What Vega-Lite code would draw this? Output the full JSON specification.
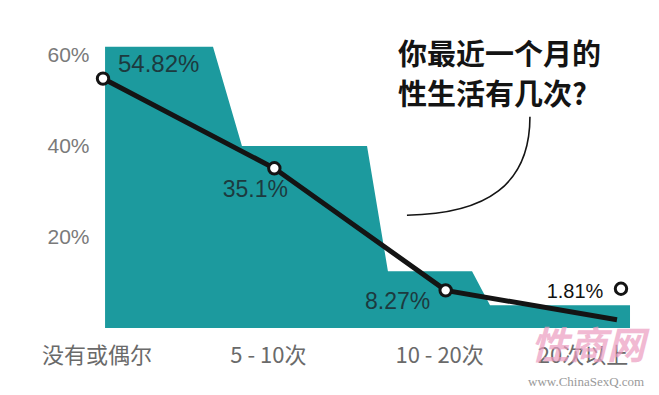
{
  "$schema": "https://vega.github.io/schema/vega-lite/v6.json",
  "width": 659,
  "height": 395,
  "autosize": "none",
  "padding": 0,
  "background": "white",
  "config": {"view": {"stroke": null}},
  "datasets": {
    "steps": [
      {"i": 0.012, "v": 61.8},
      {"i": 0.642, "v": 61.8},
      {"i": 0.811, "v": 40},
      {"i": 1.541, "v": 40},
      {"i": 1.663, "v": 12.5},
      {"i": 2.154, "v": 12.5},
      {"i": 2.259, "v": 5},
      {"i": 3.076, "v": 5}
    ],
    "share": [
      {"i": 0, "cat": "没有或偶尔", "v": 54.82, "label": "54.82%"},
      {"i": 1, "cat": "5 - 10次", "v": 35.1, "label": "35.1%"},
      {"i": 2, "cat": "10 - 20次", "v": 8.27, "label": "8.27%"},
      {"i": 3, "cat": "20次以上", "v": 1.81, "label": "1.81%"}
    ],
    "notes": [
      {"kind": "question", "i": 1.722, "v": 62.75, "text": "你最近一个月的\n性生活有几次?"},
      {"kind": "bubble", "i": 2.133, "v": 35.6, "text": ""},
      {"kind": "mark", "i": 2.831, "v": -4.4, "text": "性商网"},
      {"kind": "url", "i": 2.82, "v": -11.87, "text": "www.ChinaSexQ.com"}
    ]
  },
  "encoding": {
    "x": {"field": "i", "type": "quantitative", "scale": {"domain": [-0.6012, 3.2452], "nice": false, "zero": false}, "axis": null},
    "y": {"field": "v", "type": "quantitative", "scale": {"domain": [-14.725, 72.09], "nice": false, "zero": false},
      "axis": {"values": [20, 40, 60], "labelExpr": "datum.value + '%'", "orient": "left", "offset": -89, "domain": false, "ticks": false, "tickSize": 0, "grid": false, "labelPadding": 0, "labelFont": "Liberation Sans", "labelFontSize": 21, "labelColor": "#7a7a7a", "labelBaseline": "middle", "title": null}}
  },
  "layer": [
    {
      "data": {"name": "steps"},
      "mark": {"type": "area", "color": "#1c9a9e", "opacity": 1},
      "encoding": {"y2": {"datum": 0}}
    },
    {
      "data": {"name": "share"},
      "mark": {"type": "line", "color": "#141414", "strokeWidth": 5, "interpolate": "linear"},
      "encoding": {}
    },
    {
      "data": {"name": "share"},
      "transform": [{"filter": "datum.i < 3"}],
      "mark": {"type": "point", "shape": "circle", "filled": true, "fill": "white", "stroke": "#141414", "strokeWidth": 3, "size": 130, "opacity": 1},
      "encoding": {}
    },
    {
      "data": {"name": "share"},
      "transform": [{"filter": "datum.i == 3"}],
      "mark": {"type": "point", "shape": "circle", "filled": true, "fill": "white", "stroke": "#141414", "strokeWidth": 3, "size": 130, "opacity": 1, "xOffset": 4, "yOffset": -31},
      "encoding": {}
    },
    {
      "data": {"name": "share"},
      "transform": [{"filter": "datum.i == 0"}],
      "mark": {"type": "text", "align": "left", "baseline": "middle", "dx": 15, "dy": -14, "font": "Liberation Sans", "fontSize": 24, "color": "#1c3a3f"},
      "encoding": {"text": {"field": "label"}}
    },
    {
      "data": {"name": "share"},
      "transform": [{"filter": "datum.i == 1"}],
      "mark": {"type": "text", "align": "center", "baseline": "middle", "dx": -19, "dy": 22, "font": "Liberation Sans", "fontSize": 23, "color": "#1c3a3f"},
      "encoding": {"text": {"field": "label"}}
    },
    {
      "data": {"name": "share"},
      "transform": [{"filter": "datum.i == 2"}],
      "mark": {"type": "text", "align": "center", "baseline": "middle", "dx": -48, "dy": 12, "font": "Liberation Sans", "fontSize": 23, "color": "#1c3a3f"},
      "encoding": {"text": {"field": "label"}}
    },
    {
      "data": {"name": "share"},
      "transform": [{"filter": "datum.i == 3"}],
      "mark": {"type": "text", "align": "center", "baseline": "middle", "dx": -42, "dy": -28, "font": "Liberation Sans", "fontSize": 20, "color": "#111111"},
      "encoding": {"text": {"field": "label"}}
    },
    {
      "data": {"name": "share"},
      "transform": [{"filter": "datum.i < 3"}],
      "mark": {"type": "text", "align": "center", "baseline": "middle", "dx": -6, "font": "Noto Sans CJK SC", "fontSize": 22, "color": "#6a6a6a"},
      "encoding": {"y": {"datum": -6.15}, "text": {"field": "cat"}}
    },
    {
      "data": {"name": "share"},
      "transform": [{"filter": "datum.i == 3"}],
      "mark": {"type": "text", "align": "center", "baseline": "middle", "dx": -34, "font": "Noto Sans CJK SC", "fontSize": 22, "color": "#6a6a6a"},
      "encoding": {"y": {"datum": -6.15}, "text": {"field": "cat"}}
    },
    {
      "data": {"name": "notes"},
      "transform": [{"filter": "datum.kind == 'question'"}],
      "mark": {"type": "text", "align": "left", "baseline": "top", "lineBreak": "\n", "lineHeight": 40, "font": "Noto Sans CJK SC", "fontWeight": "bold", "fontSize": 29, "color": "#141414"},
      "encoding": {"text": {"field": "text"}}
    },
    {
      "data": {"name": "notes"},
      "transform": [{"filter": "datum.kind == 'bubble'"}],
      "mark": {"type": "point", "shape": "M 1 -0.8 C 1 0.3 0.3 0.78 -1 0.8", "filled": false, "stroke": "#141414", "strokeWidth": 1.6, "size": 15129, "opacity": 1},
      "encoding": {}
    },
    {
      "data": {"name": "notes"},
      "transform": [{"filter": "datum.kind == 'mark'"}],
      "mark": {"type": "text", "align": "center", "baseline": "middle", "font": "Noto Sans CJK SC", "fontWeight": "bold", "fontStyle": "italic", "fontSize": 38, "color": "#ec9cc0", "opacity": 0.7},
      "encoding": {"text": {"field": "text"}}
    },
    {
      "data": {"name": "notes"},
      "transform": [{"filter": "datum.kind == 'url'"}],
      "mark": {"type": "text", "align": "center", "baseline": "middle", "font": "Liberation Serif", "fontSize": 13, "color": "#9a9a9a"},
      "encoding": {"text": {"field": "text"}}
    }
  ]
}
